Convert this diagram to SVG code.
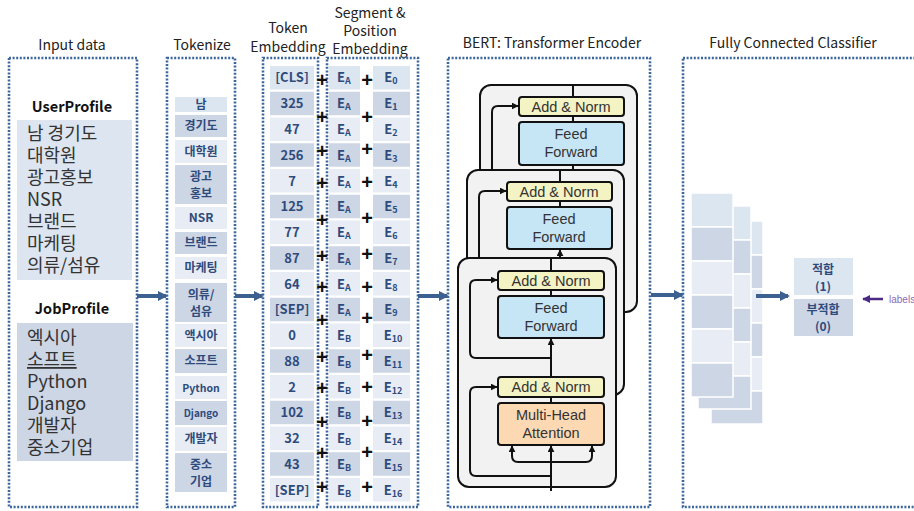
<svg xmlns="http://www.w3.org/2000/svg" width="914" height="511" viewBox="0 0 914 511">
  <defs>
    <style>
      .hdr { font-family: "Noto Sans CJK KR", "Noto Sans", sans-serif; font-size: 14px; fill: #222; text-anchor: middle; }
      .frame { fill: none; stroke: #3d679c; stroke-width: 2.6; stroke-dasharray: 2 1.6; }
      .inp { font-family: "Noto Sans CJK KR", sans-serif; font-size: 18px; fill: #333; }
      .inb { font-family: "Noto Sans CJK KR", sans-serif; font-size: 14.5px; font-weight: bold; fill: #111; text-anchor: middle; }
      .tk { font-family: "Noto Sans CJK KR", sans-serif; font-size: 12px; font-weight: bold; fill: #2f4b7c; text-anchor: middle; }
      .num { font-family: "Noto Sans CJK KR", sans-serif; font-size: 13px; font-weight: bold; fill: #2f4b7c; text-anchor: middle; }
      .sub { font-size: 9px; }
      .plus { font-family: "Liberation Sans", sans-serif; font-size: 20px; font-weight: bold; fill: #111; text-anchor: middle; }
      .c0 { fill: #dce6f1; }
      .c1 { fill: #cdd6e5; }
      .c2 { fill: #e8edf5; }
      .layer { fill: #f2f2f2; stroke: #111; stroke-width: 2; }
      .an { fill: #f4f3c4; stroke: #111; stroke-width: 2; }
      .ff { fill: #c6e6f6; stroke: #111; stroke-width: 2; }
      .mha { fill: #fcd9b2; stroke: #111; stroke-width: 2; }
      .wire { fill: none; stroke: #111; stroke-width: 2; }
      .arw { fill: none; stroke: #111; stroke-width: 2; marker-end: url(#blk); }
      .tf { font-family: "Liberation Sans", sans-serif; font-size: 14.5px; fill: #333; text-anchor: middle; }
      .out { font-family: "Noto Sans CJK KR", sans-serif; font-size: 12px; font-weight: bold; fill: #2f4b7c; text-anchor: middle; }
      .big { fill: none; stroke: #3c6190; stroke-width: 4; marker-end: url(#blue); }
      .fc rect { stroke: #fff; stroke-width: 1.5; }
    </style>
    <marker id="blk" viewBox="0 0 10 10" refX="9" refY="5" markerWidth="7" markerHeight="7" markerUnits="userSpaceOnUse" orient="auto">
      <path d="M0,0 L10,5 L0,10 Z" fill="#111"/>
    </marker>
    <marker id="blue" viewBox="0 0 10 10" refX="8" refY="5" markerWidth="10" markerHeight="10" markerUnits="userSpaceOnUse" orient="auto">
      <path d="M0,0 L10,5 L0,10 Z" fill="#3c6190"/>
    </marker>
    <marker id="purple" viewBox="0 0 10 10" refX="9" refY="5" markerWidth="8" markerHeight="8" markerUnits="userSpaceOnUse" orient="auto">
      <path d="M0,0 L10,5 L0,10 Z" fill="#4b2a86"/>
    </marker>
  </defs>

  <rect width="914" height="511" fill="#fff"/>

  <!-- column headers -->
  <g id="headers">
    <text class="hdr" x="72" y="50">Input data</text>
    <text class="hdr" x="202" y="50">Tokenize</text>
    <text class="hdr" x="288" y="33">Token</text>
    <text class="hdr" x="288" y="52">Embedding</text>
    <text class="hdr" x="370" y="18">Segment &amp;</text>
    <text class="hdr" x="370" y="36">Position</text>
    <text class="hdr" x="370" y="54">Embedding</text>
    <text class="hdr" x="552" y="48">BERT: Transformer Encoder</text>
    <text class="hdr" x="793" y="48">Fully Connected Classifier</text>
  </g>

  <!-- input data -->
  <g id="input-data">
    <rect class="frame" x="9" y="58" width="128" height="449"/>
    <text class="inb" x="72" y="112">UserProfile</text>
    <rect x="17" y="120" width="115" height="160" fill="#dce5f0"/>
    <text class="inp" x="27" y="140">남 경기도</text>
    <text class="inp" x="27" y="162">대학원</text>
    <text class="inp" x="27" y="184">광고홍보</text>
    <text class="inp" x="27" y="206">NSR</text>
    <text class="inp" x="27" y="228">브랜드</text>
    <text class="inp" x="27" y="250">마케팅</text>
    <text class="inp" x="27" y="272">의류/섬유</text>
    <text class="inb" x="72" y="314">JobProfile</text>
    <rect x="17" y="323" width="116" height="138" fill="#cdd6e5"/>
    <text class="inp" x="27" y="344">엑시아</text>
    <text class="inp" x="27" y="366" text-decoration="underline">소프트</text>
    <text class="inp" x="27" y="388">Python</text>
    <text class="inp" x="27" y="410">Django</text>
    <text class="inp" x="27" y="432">개발자</text>
    <text class="inp" x="27" y="454">중소기업</text>
  </g>

  <!-- tokenizer output -->
  <g id="tokenize">
    <rect class="frame" x="167" y="58" width="68" height="449"/>
    <rect class="c0" x="175" y="97" width="52" height="15"/>
    <text class="tk" x="201" y="109">남</text>
    <rect class="c1" x="175" y="115" width="52" height="22"/>
    <text class="tk" x="201" y="130">경기도</text>
    <rect class="c2" x="175" y="140" width="52" height="23"/>
    <text class="tk" x="201" y="156">대학원</text>
    <rect class="c1" x="175" y="165" width="52" height="39"/>
    <text class="tk" x="201" y="181">광고</text>
    <text class="tk" x="201" y="198">홍보</text>
    <rect class="c2" x="175" y="207" width="52" height="22"/>
    <text class="tk" x="201" y="222">NSR</text>
    <rect class="c1" x="175" y="232" width="52" height="22"/>
    <text class="tk" x="201" y="247">브랜드</text>
    <rect class="c2" x="175" y="257" width="52" height="22"/>
    <text class="tk" x="201" y="272">마케팅</text>
    <rect class="c1" x="175" y="283" width="52" height="39"/>
    <text class="tk" x="201" y="299">의류/</text>
    <text class="tk" x="201" y="316">섬유</text>
    <rect class="c2" x="175" y="324" width="52" height="23"/>
    <text class="tk" x="201" y="340">액시아</text>
    <rect class="c1" x="175" y="349" width="52" height="24"/>
    <text class="tk" x="201" y="365">소프트</text>
    <rect class="c2" x="175" y="376" width="52" height="23"/>
    <text class="tk" x="201" y="392" style="font-size:10.5px">Python</text>
    <rect class="c1" x="175" y="401" width="52" height="24"/>
    <text class="tk" x="201" y="417" style="font-size:10px">Django</text>
    <rect class="c2" x="175" y="427" width="52" height="24"/>
    <text class="tk" x="201" y="443">개발자</text>
    <rect class="c1" x="175" y="453" width="52" height="39"/>
    <text class="tk" x="201" y="469">중소</text>
    <text class="tk" x="201" y="486">기업</text>
  </g>

  <!-- token embedding ids -->
  <g id="token-embedding">
    <rect class="frame" x="263" y="58" width="55" height="449"/>
    <rect class="c0" x="270" y="66" width="44" height="23.5"/>
    <text class="num" x="292" y="82">[CLS]</text>
    <rect class="c1" x="270" y="91.75" width="44" height="23.5"/>
    <text class="num" x="292" y="108">325</text>
    <rect class="c2" x="270" y="117.5" width="44" height="23.5"/>
    <text class="num" x="292" y="134">47</text>
    <rect class="c1" x="270" y="143.25" width="44" height="23.5"/>
    <text class="num" x="292" y="159.5">256</text>
    <rect class="c2" x="270" y="169" width="44" height="23.5"/>
    <text class="num" x="292" y="185.5">7</text>
    <rect class="c1" x="270" y="194.75" width="44" height="23.5"/>
    <text class="num" x="292" y="211">125</text>
    <rect class="c2" x="270" y="220.5" width="44" height="23.5"/>
    <text class="num" x="292" y="237">77</text>
    <rect class="c1" x="270" y="246.25" width="44" height="23.5"/>
    <text class="num" x="292" y="262.5">87</text>
    <rect class="c2" x="270" y="272" width="44" height="23.5"/>
    <text class="num" x="292" y="288.5">64</text>
    <rect class="c1" x="270" y="297.75" width="44" height="23.5"/>
    <text class="num" x="292" y="314">[SEP]</text>
    <rect class="c2" x="270" y="323.5" width="44" height="23.5"/>
    <text class="num" x="292" y="340">0</text>
    <rect class="c1" x="270" y="349.25" width="44" height="23.5"/>
    <text class="num" x="292" y="365.5">88</text>
    <rect class="c2" x="270" y="375" width="44" height="23.5"/>
    <text class="num" x="292" y="391.5">2</text>
    <rect class="c1" x="270" y="400.75" width="44" height="23.5"/>
    <text class="num" x="292" y="417">102</text>
    <rect class="c2" x="270" y="426.5" width="44" height="23.5"/>
    <text class="num" x="292" y="443">32</text>
    <rect class="c1" x="270" y="452.25" width="44" height="23.5"/>
    <text class="num" x="292" y="468.5">43</text>
    <rect class="c2" x="270" y="478" width="44" height="23.5"/>
    <text class="num" x="292" y="494.5">[SEP]</text>
  </g>

  <!-- segment and position embeddings -->
  <g id="segment-position">
    <rect class="frame" x="327" y="58" width="91" height="449"/>
    <g id="segment-column">
      <rect class="c0" x="329" y="66" width="31" height="23.5"/>
      <rect class="c1" x="329" y="91.75" width="31" height="23.5"/>
      <rect class="c2" x="329" y="117.5" width="31" height="23.5"/>
      <rect class="c1" x="329" y="143.25" width="31" height="23.5"/>
      <rect class="c2" x="329" y="169" width="31" height="23.5"/>
      <rect class="c1" x="329" y="194.75" width="31" height="23.5"/>
      <rect class="c2" x="329" y="220.5" width="31" height="23.5"/>
      <rect class="c1" x="329" y="246.25" width="31" height="23.5"/>
      <rect class="c2" x="329" y="272" width="31" height="23.5"/>
      <rect class="c1" x="329" y="297.75" width="31" height="23.5"/>
      <rect class="c2" x="329" y="323.5" width="31" height="23.5"/>
      <rect class="c1" x="329" y="349.25" width="31" height="23.5"/>
      <rect class="c2" x="329" y="375" width="31" height="23.5"/>
      <rect class="c1" x="329" y="400.75" width="31" height="23.5"/>
      <rect class="c2" x="329" y="426.5" width="31" height="23.5"/>
      <rect class="c1" x="329" y="452.25" width="31" height="23.5"/>
      <rect class="c2" x="329" y="478" width="31" height="23.5"/>
      <text class="num" x="344" y="82">E<tspan class="sub" dy="2">A</tspan></text>
      <text class="num" x="344" y="108">E<tspan class="sub" dy="2">A</tspan></text>
      <text class="num" x="344" y="134">E<tspan class="sub" dy="2">A</tspan></text>
      <text class="num" x="344" y="159.5">E<tspan class="sub" dy="2">A</tspan></text>
      <text class="num" x="344" y="185.5">E<tspan class="sub" dy="2">A</tspan></text>
      <text class="num" x="344" y="211">E<tspan class="sub" dy="2">A</tspan></text>
      <text class="num" x="344" y="237">E<tspan class="sub" dy="2">A</tspan></text>
      <text class="num" x="344" y="262.5">E<tspan class="sub" dy="2">A</tspan></text>
      <text class="num" x="344" y="288.5">E<tspan class="sub" dy="2">A</tspan></text>
      <text class="num" x="344" y="314">E<tspan class="sub" dy="2">A</tspan></text>
      <text class="num" x="344" y="340">E<tspan class="sub" dy="2">B</tspan></text>
      <text class="num" x="344" y="365.5">E<tspan class="sub" dy="2">B</tspan></text>
      <text class="num" x="344" y="391.5">E<tspan class="sub" dy="2">B</tspan></text>
      <text class="num" x="344" y="417">E<tspan class="sub" dy="2">B</tspan></text>
      <text class="num" x="344" y="443">E<tspan class="sub" dy="2">B</tspan></text>
      <text class="num" x="344" y="468.5">E<tspan class="sub" dy="2">B</tspan></text>
      <text class="num" x="344" y="494.5">E<tspan class="sub" dy="2">B</tspan></text>
    </g>
    <g id="position-column">
      <rect class="c0" x="373" y="66" width="37" height="23.5"/>
      <rect class="c1" x="373" y="91.75" width="37" height="23.5"/>
      <rect class="c2" x="373" y="117.5" width="37" height="23.5"/>
      <rect class="c1" x="373" y="143.25" width="37" height="23.5"/>
      <rect class="c2" x="373" y="169" width="37" height="23.5"/>
      <rect class="c1" x="373" y="194.75" width="37" height="23.5"/>
      <rect class="c2" x="373" y="220.5" width="37" height="23.5"/>
      <rect class="c1" x="373" y="246.25" width="37" height="23.5"/>
      <rect class="c2" x="373" y="272" width="37" height="23.5"/>
      <rect class="c1" x="373" y="297.75" width="37" height="23.5"/>
      <rect class="c2" x="373" y="323.5" width="37" height="23.5"/>
      <rect class="c1" x="373" y="349.25" width="37" height="23.5"/>
      <rect class="c2" x="373" y="375" width="37" height="23.5"/>
      <rect class="c1" x="373" y="400.75" width="37" height="23.5"/>
      <rect class="c2" x="373" y="426.5" width="37" height="23.5"/>
      <rect class="c1" x="373" y="452.25" width="37" height="23.5"/>
      <rect class="c2" x="373" y="478" width="37" height="23.5"/>
      <text class="num" x="391" y="82">E<tspan class="sub" dy="2">0</tspan></text>
      <text class="num" x="391" y="108">E<tspan class="sub" dy="2">1</tspan></text>
      <text class="num" x="391" y="134">E<tspan class="sub" dy="2">2</tspan></text>
      <text class="num" x="391" y="159.5">E<tspan class="sub" dy="2">3</tspan></text>
      <text class="num" x="391" y="185.5">E<tspan class="sub" dy="2">4</tspan></text>
      <text class="num" x="391" y="211">E<tspan class="sub" dy="2">5</tspan></text>
      <text class="num" x="391" y="237">E<tspan class="sub" dy="2">6</tspan></text>
      <text class="num" x="391" y="262.5">E<tspan class="sub" dy="2">7</tspan></text>
      <text class="num" x="391" y="288.5">E<tspan class="sub" dy="2">8</tspan></text>
      <text class="num" x="391" y="314">E<tspan class="sub" dy="2">9</tspan></text>
      <text class="num" x="393" y="340">E<tspan class="sub" dy="2">10</tspan></text>
      <text class="num" x="393" y="365.5">E<tspan class="sub" dy="2">11</tspan></text>
      <text class="num" x="393" y="391.5">E<tspan class="sub" dy="2">12</tspan></text>
      <text class="num" x="393" y="417">E<tspan class="sub" dy="2">13</tspan></text>
      <text class="num" x="393" y="443">E<tspan class="sub" dy="2">14</tspan></text>
      <text class="num" x="393" y="468.5">E<tspan class="sub" dy="2">15</tspan></text>
      <text class="num" x="393" y="494.5">E<tspan class="sub" dy="2">16</tspan></text>
    </g>
    <g id="plus-signs">
      <text class="plus" x="322" y="87">+</text>
      <text class="plus" x="322" y="124">+</text>
      <text class="plus" x="322" y="158">+</text>
      <text class="plus" x="322" y="190">+</text>
      <text class="plus" x="322" y="227">+</text>
      <text class="plus" x="322" y="263">+</text>
      <text class="plus" x="322" y="294">+</text>
      <text class="plus" x="322" y="327">+</text>
      <text class="plus" x="322" y="364">+</text>
      <text class="plus" x="322" y="395">+</text>
      <text class="plus" x="322" y="429">+</text>
      <text class="plus" x="322" y="460">+</text>
      <text class="plus" x="322" y="494">+</text>
      <text class="plus" x="367" y="87">+</text>
      <text class="plus" x="367" y="124">+</text>
      <text class="plus" x="367" y="156">+</text>
      <text class="plus" x="367" y="189">+</text>
      <text class="plus" x="367" y="225">+</text>
      <text class="plus" x="367" y="261">+</text>
      <text class="plus" x="367" y="294">+</text>
      <text class="plus" x="367" y="325">+</text>
      <text class="plus" x="367" y="362">+</text>
      <text class="plus" x="367" y="394">+</text>
      <text class="plus" x="367" y="428">+</text>
      <text class="plus" x="367" y="459">+</text>
      <text class="plus" x="367" y="494">+</text>
    </g>
  </g>

  <!-- BERT encoder stack -->
  <g id="bert-encoder">
    <rect class="frame" x="448" y="58" width="202" height="449"/>
    <g id="encoder-layer-3">
      <rect class="layer" x="480" y="85" width="157" height="227" rx="11"/>
      <line class="wire" x1="573" y1="85" x2="573" y2="97"/>
      <rect class="an" x="519" y="97" width="105" height="19" rx="3"/>
      <text class="tf" x="571" y="111.5">Add &amp; Norm</text>
      <line class="wire" x1="573" y1="116" x2="573" y2="122"/>
      <rect class="ff" x="519" y="122" width="105" height="43" rx="3"/>
      <text class="tf" x="571" y="139">Feed</text>
      <text class="tf" x="571" y="157">Forward</text>
      <line class="wire" x1="573" y1="165" x2="573" y2="172"/>
      <path class="arw" d="M492 172 V112 Q492 106 498 106 H518"/>
    </g>
    <g id="encoder-layer-2">
      <rect class="layer" x="467" y="170" width="157" height="225" rx="11"/>
      <line class="wire" x1="560" y1="170" x2="560" y2="182"/>
      <rect class="an" x="507" y="182" width="105" height="19" rx="3"/>
      <text class="tf" x="559" y="196.5">Add &amp; Norm</text>
      <line class="wire" x1="560" y1="201" x2="560" y2="207"/>
      <rect class="ff" x="507" y="207" width="105" height="42" rx="3"/>
      <text class="tf" x="559" y="224">Feed</text>
      <text class="tf" x="559" y="242">Forward</text>
      <path class="arw" d="M560 260 V250"/>
      <path class="arw" d="M479 260 V197 Q479 191 485 191 H506"/>
    </g>
    <g id="encoder-layer-1">
      <rect class="layer" x="458" y="258" width="158" height="229" rx="11"/>
      <line class="wire" x1="551" y1="258" x2="551" y2="271"/>
      <rect class="an" x="498" y="271" width="106" height="19" rx="3"/>
      <text class="tf" x="551" y="285.5">Add &amp; Norm</text>
      <line class="wire" x1="551" y1="290" x2="551" y2="296"/>
      <rect class="ff" x="498" y="296" width="106" height="42" rx="3"/>
      <text class="tf" x="551" y="313">Feed</text>
      <text class="tf" x="551" y="331">Forward</text>
      <path class="arw" d="M551 377 V339"/>
      <path class="arw" d="M551 358 H476 Q470 358 470 352 V286 Q470 280 476 280 H497"/>
      <rect class="an" x="498" y="377" width="106" height="20" rx="3"/>
      <text class="tf" x="551" y="392">Add &amp; Norm</text>
      <line class="wire" x1="551" y1="397" x2="551" y2="403"/>
      <rect class="mha" x="498" y="403" width="106" height="42" rx="3"/>
      <text class="tf" x="551" y="420">Multi-Head</text>
      <text class="tf" x="551" y="438">Attention</text>
      <path class="arw" d="M551 491 V446"/>
      <path class="arw" d="M551 462 H518 Q512 462 512 456 V446"/>
      <path class="arw" d="M551 462 H586 Q592 462 592 456 V446"/>
      <path class="arw" d="M551 476 H476 Q470 476 470 470 V393 Q470 387 476 387 H497"/>
    </g>
  </g>

  <!-- classifier -->
  <g id="classifier">
    <rect class="frame" x="683" y="58" width="240" height="449"/>
    <g class="fc" id="fc-back">
      <rect class="c0" x="711" y="221" width="52" height="34"/>
      <rect class="c1" x="711" y="255" width="52" height="34"/>
      <rect class="c2" x="711" y="289" width="52" height="34"/>
      <rect class="c1" x="711" y="323" width="52" height="34"/>
      <rect class="c2" x="711" y="357" width="52" height="34"/>
      <rect class="c1" x="711" y="391" width="52" height="33"/>
    </g>
    <g class="fc" id="fc-middle">
      <rect class="c0" x="698" y="206" width="53" height="34"/>
      <rect class="c1" x="698" y="240" width="53" height="34"/>
      <rect class="c2" x="698" y="274" width="53" height="34"/>
      <rect class="c1" x="698" y="308" width="53" height="34"/>
      <rect class="c2" x="698" y="342" width="53" height="34"/>
      <rect class="c1" x="698" y="376" width="53" height="33"/>
    </g>
    <g class="fc" id="fc-front">
      <rect class="c0" x="691" y="193" width="42" height="34"/>
      <rect class="c1" x="691" y="227" width="42" height="34"/>
      <rect class="c2" x="691" y="261" width="42" height="34"/>
      <rect class="c1" x="691" y="295" width="42" height="34"/>
      <rect class="c2" x="691" y="329" width="42" height="34"/>
      <rect class="c1" x="691" y="363" width="42" height="34"/>
    </g>
    <g id="out-fit">
      <rect class="c0" x="794" y="258" width="59" height="37"/>
      <text class="out" x="823" y="274">적합</text>
      <text class="out" x="823" y="291">(1)</text>
    </g>
    <g id="out-unfit">
      <rect class="c1" x="794" y="299" width="59" height="37"/>
      <text class="out" x="823" y="314">부적합</text>
      <text class="out" x="823" y="331">(0)</text>
    </g>
    <text x="889" y="303" font-family="Liberation Sans, sans-serif" font-size="10" fill="#8a6bb5">labels</text>
  </g>

  <!-- flow arrows -->
  <g id="connectors">
    <path class="big" d="M137 296 H166"/>
    <path class="big" d="M235 296 H262"/>
    <path class="big" d="M418 296 H447"/>
    <path class="big" d="M651 295 H682"/>
    <path class="big" d="M756 296 H788"/>
    <path d="M883 299 H863" fill="none" stroke="#4b2a86" stroke-width="2.5" marker-end="url(#purple)"/>
  </g>
</svg>
